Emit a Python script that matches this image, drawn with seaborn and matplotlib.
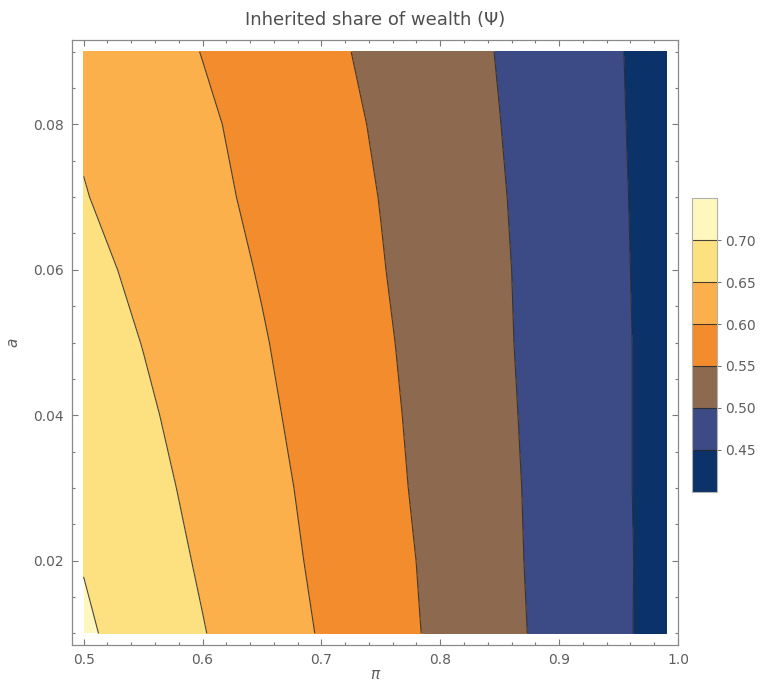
import numpy as np
import matplotlib
matplotlib.use("Agg")
import matplotlib.pyplot as plt
import seaborn as sns
from matplotlib.ticker import MultipleLocator

pi_values = [0.50, 0.55, 0.60, 0.65, 0.70, 0.75, 0.80, 0.85, 0.90, 0.95, 0.99]
a_values = [0.01, 0.02, 0.03, 0.04, 0.05, 0.06, 0.07, 0.08, 0.09]

# Psi along pi, one list per value of a
psi_a01 = [0.707, 0.679, 0.652, 0.624, 0.597, 0.569, 0.541, 0.513, 0.485, 0.457, 0.434]
psi_a02 = [0.698, 0.672, 0.645, 0.619, 0.592, 0.566, 0.539, 0.511, 0.484, 0.457, 0.435]
psi_a03 = [0.689, 0.664, 0.639, 0.614, 0.588, 0.562, 0.536, 0.510, 0.483, 0.456, 0.435]
psi_a04 = [0.681, 0.657, 0.632, 0.608, 0.584, 0.559, 0.534, 0.508, 0.482, 0.456, 0.435]
psi_a05 = [0.672, 0.649, 0.626, 0.603, 0.579, 0.556, 0.531, 0.506, 0.481, 0.456, 0.435]
psi_a06 = [0.662, 0.641, 0.619, 0.597, 0.575, 0.552, 0.529, 0.505, 0.480, 0.455, 0.435]
psi_a07 = [0.652, 0.632, 0.612, 0.591, 0.570, 0.549, 0.526, 0.503, 0.479, 0.454, 0.435]
psi_a08 = [0.645, 0.626, 0.607, 0.586, 0.566, 0.545, 0.523, 0.5005, 0.477, 0.453, 0.434]
psi_a09 = [0.6385, 0.619, 0.599, 0.580, 0.560, 0.540, 0.519, 0.498, 0.475, 0.452, 0.434]

levels = [0.40, 0.45, 0.50, 0.55, 0.60, 0.65, 0.70, 0.75]
band_colors = ['#0b3269', '#3c4b86', '#8d6a4f', '#f28c2c', '#fbb04b', '#fde07f', '#fff7bd']
cbar_ticks = [0.45, 0.50, 0.55, 0.60, 0.65, 0.70]
cbar_labels = ['0.45', '0.50', '0.55', '0.60', '0.65', '0.70']

sns.set_theme(style="white")
plt.rcParams['font.family'] = ['DejaVu Sans']

psi = np.array([psi_a01, psi_a02, psi_a03, psi_a04, psi_a05,
                psi_a06, psi_a07, psi_a08, psi_a09])

fig = plt.figure(figsize=(7.65, 6.9), dpi=100)
ax = fig.add_axes([0.0941, 0.0652, 0.7922, 0.8768])

cf = ax.contourf(pi_values, a_values, psi, levels=levels, colors=band_colors)
cs = ax.contour(pi_values, a_values, psi, levels=levels[1:-1],
                colors='#2a2a2a', linewidths=0.8, alpha=0.85)

ax.set_xlim(0.4902, 0.9998)
ax.set_ylim(0.0084, 0.0916)
ax.xaxis.set_major_locator(MultipleLocator(0.1))
ax.xaxis.set_minor_locator(MultipleLocator(0.02))
ax.yaxis.set_major_locator(MultipleLocator(0.02))
ax.yaxis.set_minor_locator(MultipleLocator(0.005))
ax.set_xticks(np.round(np.arange(0.5, 1.01, 0.1), 1))
ax.set_xticklabels(['0.5', '0.6', '0.7', '0.8', '0.9', '1.0'])
ax.set_yticks([0.02, 0.04, 0.06, 0.08])
ax.set_yticklabels(['0.02', '0.04', '0.06', '0.08'])

ax.tick_params(which='both', direction='in', top=True, right=True,
               bottom=True, left=True, color='#7a7a7a', width=0.8)
ax.tick_params(which='major', length=4.5, labelsize=10, labelcolor='#5e5e5e', pad=6)
ax.tick_params(which='minor', length=2.5)
for side in ax.spines.values():
    side.set_color('#8a8a8a')
    side.set_linewidth(0.9)

ax.set_title('Inherited share of wealth (Ψ)', fontsize=13, color='#4f4f4f', pad=11)
ax.set_xlabel('π', fontstyle='italic', fontsize=11, color='#5e5e5e', labelpad=0)
ax.set_ylabel('a', fontstyle='italic', fontsize=11, color='#5e5e5e', labelpad=9)

cax = fig.add_axes([0.9046, 0.287, 0.0327, 0.426])
cbar = fig.colorbar(cf, cax=cax, ticks=cbar_ticks)
cbar.add_lines(cs)
cbar.ax.set_yticklabels(cbar_labels)
cbar.ax.tick_params(length=3, width=0.6, color='#555555', labelsize=10,
                    labelcolor='#5e5e5e', pad=3)
cbar.outline.set_edgecolor('#b0b0b0')
cbar.outline.set_linewidth(0.8)

fig.savefig('out.png', dpi=100)
